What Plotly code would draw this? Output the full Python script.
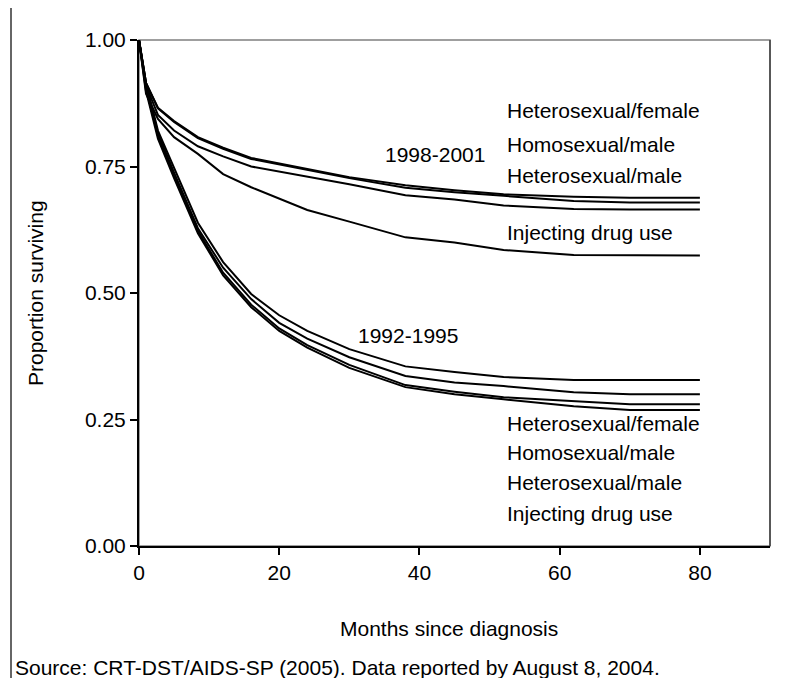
import plotly.graph_objects as go

# ---- data ----
months = [0, 1, 2.7, 5, 8.4, 12, 16, 20, 24, 30, 38, 45, 52, 62, 70, 80]

# 1998-2001 cohort
p98_het_female = [1.0, 0.915, 0.866, 0.840, 0.808, 0.787, 0.767, 0.756, 0.745, 0.729, 0.713, 0.703, 0.695, 0.690, 0.688, 0.688]
p98_homo_male  = [1.0, 0.915, 0.865, 0.838, 0.806, 0.785, 0.765, 0.754, 0.743, 0.727, 0.708, 0.699, 0.692, 0.682, 0.679, 0.679]
p98_het_male   = [1.0, 0.910, 0.852, 0.821, 0.790, 0.770, 0.750, 0.740, 0.729, 0.715, 0.693, 0.685, 0.673, 0.666, 0.665, 0.665]
p98_idu        = [1.0, 0.894, 0.844, 0.808, 0.775, 0.735, 0.709, 0.686, 0.664, 0.641, 0.610, 0.600, 0.585, 0.575, 0.574, 0.574]

# 1992-1995 cohort
p92_het_female = [1.0, 0.915, 0.821, 0.748, 0.639, 0.561, 0.498, 0.456, 0.425, 0.389, 0.355, 0.344, 0.334, 0.328, 0.328, 0.328]
p92_homo_male  = [1.0, 0.910, 0.816, 0.738, 0.628, 0.550, 0.488, 0.441, 0.410, 0.373, 0.336, 0.323, 0.316, 0.304, 0.300, 0.300]
p92_het_male   = [1.0, 0.904, 0.811, 0.732, 0.623, 0.540, 0.477, 0.430, 0.397, 0.358, 0.318, 0.305, 0.294, 0.287, 0.280, 0.280]
p92_idu        = [1.0, 0.899, 0.805, 0.727, 0.618, 0.535, 0.472, 0.425, 0.392, 0.352, 0.314, 0.300, 0.290, 0.276, 0.269, 0.269]

series = [p98_het_female, p98_homo_male, p98_het_male, p98_idu,
          p92_het_female, p92_homo_male, p92_het_male, p92_idu]

group_labels = ["Heterosexual/female", "Homosexual/male", "Heterosexual/male", "Injecting drug use"]
upper_label_y = [0.860, 0.793, 0.733, 0.619]
lower_label_y = [0.243, 0.184, 0.125, 0.065]
label_x = 52.2
cohort_labels = ["1998-2001", "1992-1995"]
cohort_x = [34.8, 31.0]
cohort_y = [0.773, 0.417]

x_ticks = [0, 20, 40, 60, 80]
y_ticks = [0, 0.25, 0.5, 0.75, 1.0]

FONT = "Liberation Sans, Arial, sans-serif"
FS = 21
W, H = 794, 678
L, R, T, B = 131, 32, 32, 140
pw, ph = W - L - R, H - T - B
bottom_px = H - B


def py(px):
    """pixel row -> paper y"""
    return (bottom_px - px) / ph


def pxx(px):
    """pixel column -> paper x"""
    return (px - L) / pw


fig = go.Figure()
for s in series:
    fig.add_trace(go.Scatter(x=months, y=s, mode="lines",
                             line=dict(color="black", width=2),
                             showlegend=False, hoverinfo="skip"))

ann = []
for t, yv in zip(group_labels, upper_label_y):
    ann.append(dict(x=label_x, y=yv, text=t, xanchor="left", yanchor="middle", showarrow=False))
for t, yv in zip(group_labels, lower_label_y):
    ann.append(dict(x=label_x, y=yv, text=t, xanchor="left", yanchor="middle", showarrow=False))
for t, xv, yv in zip(cohort_labels, cohort_x, cohort_y):
    ann.append(dict(x=xv, y=yv, text=t, xanchor="left", yanchor="middle", showarrow=False))

# axis titles and source note
ann.append(dict(xref="paper", yref="paper", x=pxx(441), y=py(620), text="Months since diagnosis",
                xanchor="center", yanchor="middle", showarrow=False))
ann.append(dict(xref="paper", yref="paper", x=pxx(27), y=0.5, text="Proportion surviving",
                textangle=-90, xanchor="center", yanchor="middle", showarrow=False))
ann.append(dict(xref="paper", yref="paper", x=pxx(5), y=py(659),
                text="Source: CRT-DST/AIDS-SP (2005). Data reported by August 8, 2004.",
                xanchor="left", yanchor="middle", showarrow=False))

shapes = [
    # plot-area border (top visible in gray)
    dict(type="rect", xref="x domain", yref="y domain", x0=0, y0=0, x1=1, y1=1,
         line=dict(color="#808080", width=1.5), layer="below"),
    # right border slightly darker
    dict(type="line", xref="x domain", yref="y domain", x0=1, x1=1, y0=0, y1=1,
         line=dict(color="#404040", width=1.5), layer="below"),
    # left edge line of the chart frame
    dict(type="line", xref="paper", yref="paper",
         x0=pxx(3), x1=pxx(3), y0=py(H), y1=py(0),
         line=dict(color="#333333", width=1.5)),
]

fig.update_layout(
    width=W, height=H,
    margin=dict(l=L, r=R, t=T, b=B),
    paper_bgcolor="white", plot_bgcolor="white",
    font=dict(family=FONT, size=FS, color="black"),
    annotations=ann, shapes=shapes,
    xaxis=dict(range=[0, 90], tickvals=x_ticks, ticks="outside", ticklen=7, tickwidth=1.5,
               tickcolor="black", showline=True, linecolor="black", linewidth=2,
               showgrid=False, zeroline=False, tickfont=dict(size=FS)),
    yaxis=dict(range=[0, 1], tickvals=y_ticks, tickformat=".2f", ticks="outside", ticklen=7,
               tickwidth=1.5, tickcolor="black", showline=True, linecolor="black", linewidth=2,
               showgrid=False, zeroline=False, tickfont=dict(size=FS)),
)

fig.write_html("out.html")
